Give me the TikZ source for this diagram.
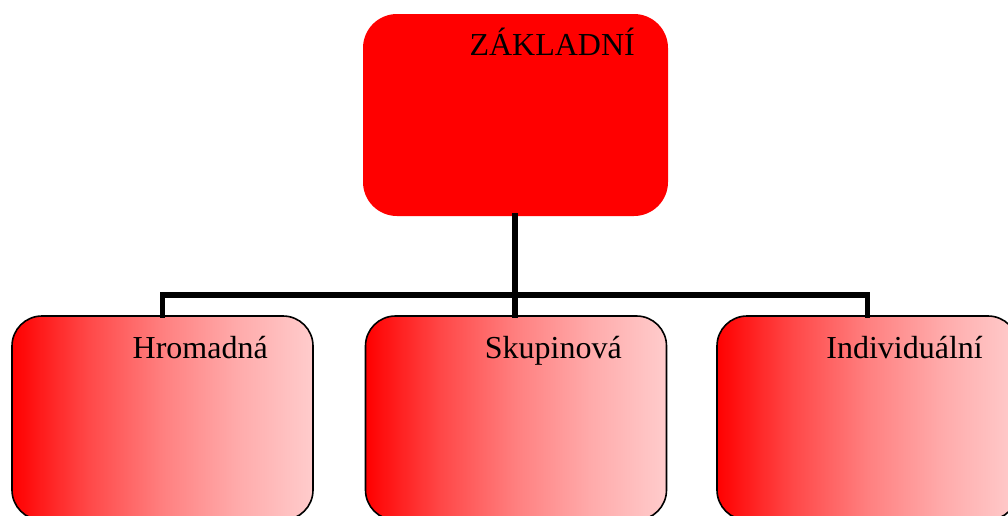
\documentclass[tikz,border=0pt]{standalone}
\usepackage{fontspec}
\setmainfont{Liberation Serif}
\pgfdeclarehorizontalshading{redfade}{100bp}{color(0bp)=(red); color(25bp)=(red); color(37.5bp)=(red!72); color(50bp)=(red!50); color(62.5bp)=(red!33); color(75bp)=(red!20); color(100bp)=(red!20)}
\begin{document}
\begin{tikzpicture}[x=1pt,y=-1pt,
  topbox/.style={fill=red, rounded corners=34pt, minimum width=305pt, minimum height=202pt, inner sep=0pt},
  subbox/.style={draw=black, line width=1.6pt, shading=redfade, rounded corners=30pt, minimum width=301pt, minimum height=204pt, inner sep=0pt},
  lbl/.style={anchor=base east, inner sep=0pt, font=\fontsize{32}{38}\selectfont},
  conn/.style={line width=5.5pt, line cap=rect}]
\clip (0,0) rectangle (1008,515);
\node[topbox] (root) at (515.5,115) {};
\node[subbox] (a) at (162.5,418) {};
\node[subbox] (b) at (516,418) {};
\node[subbox] (c) at (867.5,418) {};
\coordinate (j) at (515,295);
\draw[conn] (root.south -| j) -- (j);
\draw[conn] (a.north) -- (a.north |- j) -- (c.north |- j) -- (c.north);
\draw[conn] (j) -- (b.north -| j);
\node[lbl] (t0) at (635,55) {ZÁKLADNÍ};
\node[lbl] (t1) at (268,358) {Hromadná};
\node[lbl] (t2) at (622,358) {Skupinová};
\node[lbl] (t3) at (983,358) {Individuální};
\end{tikzpicture}
\end{document}
